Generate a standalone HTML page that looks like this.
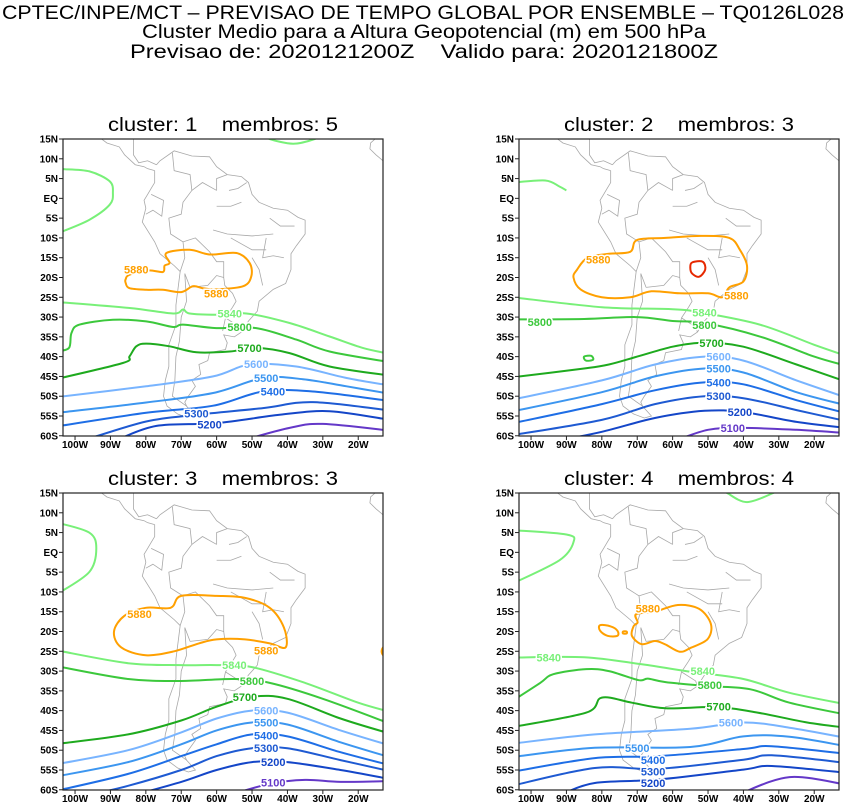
<!DOCTYPE html>
<html><head><meta charset="utf-8"><style>
html,body{margin:0;padding:0;background:#fff}
svg{display:block}
text{font-family:"Liberation Sans",sans-serif;white-space:pre}
</style></head><body>
<svg id="chart" width="847" height="803" viewBox="0 0 847 803">
<g>
<text x="2" y="19" font-size="19" textLength="842" lengthAdjust="spacingAndGlyphs">CPTEC/INPE/MCT – PREVISAO DE TEMPO GLOBAL POR ENSEMBLE – TQ0126L028</text>
<text x="142" y="38" font-size="19" textLength="564" lengthAdjust="spacingAndGlyphs">Cluster Medio para a Altura Geopotencial (m) em 500 hPa</text>
<text x="130" y="58" font-size="19" textLength="588" lengthAdjust="spacingAndGlyphs">Previsao de: 2020121200Z    Valido para: 2020121800Z</text>
</g>
</svg>
<script>
// ---- data ----
const lonTicks=[-100,-90,-80,-70,-60,-50,-40,-30,-20];
const lonTickLabels=['100W','90W','80W','70W','60W','50W','40W','30W','20W'];
const latTicks=[15,10,5,0,-5,-10,-15,-20,-25,-30,-35,-40,-45,-50,-55,-60];
const latTickLabels=['15N','10N','5N','EQ','5S','10S','15S','20S','25S','30S','35S','40S','45S','50S','55S','60S'];
const panelTitles=['cluster: 1    membros: 5','cluster: 2    membros: 3','cluster: 3    membros: 3','cluster: 4    membros: 4'];
const levels=[5880,5840,5800,5700,5600,5500,5400,5300,5200,5100];
const levelColors={5880:'#ffa000',5840:'#78f078',5800:'#3cc83c',5700:'#1eaa1e',5600:'#78b4ff',5500:'#3c96f0',5400:'#1e6ee6',5300:'#1e5ad2',5200:'#1446c8',5100:'#6438c8',5890:'#e62800'};

// panel 1
const p1_5840a=[[-103.4,7.4],[-95.9,6.8],[-90.2,4.3],[-89.3,1.4],[-90.2,-1.6],[-95.9,-5.4],[-103.4,-8.3]];
const p1_5840b=[[-46,16],[-45,15],[-38.4,13.8],[-32.3,15],[-31,16]];
const p1_5840=[[-105,-26.2],[-84.6,-27.7],[-72.3,-29.1],[-69.5,-28.1],[-67.6,-29.1],[-60.1,-29.4],[-51.6,-29.1],[-39.4,-31.5],[-28.1,-34.9],[-18.7,-37.8],[-11,-39.3]];
const p1_5800=[[-105,-38.6],[-101.7,-37.8],[-101,-34],[-98.7,-31.9],[-89.3,-30.7],[-79.9,-31.1],[-72.3,-32.5],[-69.5,-31.9],[-60.1,-32.8],[-48.8,-32.8],[-37.5,-35.7],[-28.1,-38.7],[-11,-41.4]];
const p1_5700=[[-105,-45.6],[-86.5,-41.6],[-84.6,-39.9],[-82.7,-37.4],[-79.9,-36.7],[-73.3,-37.4],[-65.7,-38.9],[-56.3,-38.7],[-48.8,-37.8],[-39.4,-39.1],[-28.1,-42.5],[-11,-44.8]];
const p1_5600=[[-105,-50.2],[-79.9,-47.5],[-61,-45],[-50.7,-42],[-37.5,-42.5],[-23.3,-45.4],[-11,-47.3]];
const p1_5500=[[-105,-54.2],[-79.9,-51.6],[-61,-49.2],[-46.9,-45.4],[-35.6,-45.7],[-23.3,-47.5],[-11,-49.4]];
const p1_5400=[[-105,-57.6],[-79.9,-54.2],[-61,-52.4],[-46.9,-48.8],[-32.8,-48.8],[-11,-51.2]];
const p1_5300=[[-97,-61],[-79.9,-56.4],[-65.7,-54.7],[-46.9,-53],[-32.8,-51.5],[-11,-53.6]];
const p1_5200=[[-88,-61],[-77,-57.5],[-60.1,-56.8],[-42.2,-54.7],[-28.1,-53.8],[-11,-56]];
const p1_5100=[[-52,-61],[-39.4,-58],[-30,-57],[-11,-58.7]];
const p1_5880=[[-85.7,-20.4],[-84.6,-19.3],[-79.4,-18.2],[-75.2,-18.6],[-74.7,-17],[-73.3,-16.3],[-74.2,-13.8],[-67.6,-13],[-61.9,-14.2],[-54.4,-13.8],[-50.7,-16.3],[-50.2,-19.7],[-52.5,-22.2],[-60.1,-23],[-63.9,-22.7],[-66.7,-22.2],[-70,-23.7],[-75.2,-23.1],[-79.9,-23.1],[-84.6,-22.7],[-85.7,-21.4]];
const p1_labels=[[5880,-82.7,-18],[5880,-60.1,-24.1],[5840,-56.3,-29.1],[5800,-53.5,-32.5],[5700,-50.7,-37.8],[5600,-48.8,-41.8],[5500,-46,-45.4],[5400,-44.1,-48.8],[5300,-65.7,-54.4],[5200,-62,-57.2]];

// panel 2
const p2_5840a=[[-105,4],[-96,4.5],[-92,3],[-90,2]];
const p2_5840=[[-105,-25],[-80,-27.5],[-60,-28],[-51,-29],[-35,-32],[-20,-37],[-11,-39.8]];
const p2_5800=[[-105,-30.6],[-85,-30.5],[-70,-30],[-60,-31],[-51,-31.5],[-35,-35],[-20,-40],[-11,-42.3]];
const p2_5700=[[-105,-45.2],[-85,-43],[-78,-42],[-70,-40],[-60,-37.5],[-51,-36.5],[-40,-37.5],[-25,-42],[-11,-46.3]];
const p2_5600=[[-105,-50.8],[-80,-46],[-65,-42],[-51,-40],[-40,-41],[-25,-46],[-11,-50.3]];
const p2_5500=[[-105,-53.8],[-80,-49],[-65,-45],[-51,-43],[-40,-44],[-25,-49],[-11,-52.3]];
const p2_5400=[[-105,-56.8],[-80,-52],[-65,-48.5],[-51,-46.5],[-40,-47],[-25,-51],[-11,-54.3]];
const p2_5300=[[-105,-59.8],[-80,-56],[-65,-52],[-51,-50],[-40,-50.5],[-25,-53.5],[-11,-56.3]];
const p2_5200=[[-94,-61.5],[-80,-59],[-65,-55.5],[-51,-53.7],[-40,-54],[-25,-56.5],[-11,-58]];
const p2_5100=[[-60,-61.5],[-50,-58.5],[-40,-58],[-25,-58.5],[-11,-59.3]];
const p2_5880=[[-87,-18],[-84,-15],[-78,-14],[-72,-13.5],[-70,-10.5],[-62,-10],[-52,-9.5],[-44,-10],[-41,-13],[-39,-17],[-40,-21],[-44,-22.5],[-46,-25],[-50,-24],[-58,-24],[-66,-23.5],[-72,-25],[-80,-25],[-86,-23],[-88,-20]];
const p2_5890=[[-54.5,-16.2],[-51.5,-16],[-50.8,-18],[-52.5,-19.8],[-54.5,-19],[-55,-17.5]];
const p2_5800b=[[-85,-40],[-83,-39.8],[-82.5,-40.8],[-84.5,-41]];
const p2_labels=[[5880,-81,-15.5],[5880,-42,-24.5],[5840,-51,-28.8],[5800,-97.5,-31.2],[5800,-51,-32],[5700,-49,-36.5],[5600,-47,-40],[5500,-47,-43],[5400,-47,-46.5],[5300,-47,-50],[5200,-41,-54],[5100,-43,-58]];

// panel 3
const p3_5840a=[[-105,7.5],[-96,5],[-94,1],[-96,-5],[-105,-10.5]];
const p3_5840=[[-105,-24.8],[-85,-28],[-70,-28.5],[-60,-28.5],[-50,-29],[-35,-33],[-20,-38],[-11,-40.3]];
const p3_5800=[[-105,-28.8],[-85,-32],[-70,-32.5],[-55,-32],[-45,-33],[-30,-37],[-11,-43.3]];
const p3_5700=[[-105,-48.4],[-85,-46],[-70,-42.5],[-60,-39],[-50,-36.5],[-40,-37],[-25,-42],[-11,-45.8]];
const p3_5600=[[-105,-53.5],[-85,-50],[-70,-45.5],[-60,-42],[-50,-40],[-40,-40.5],[-25,-45],[-11,-48.8]];
const p3_5500=[[-105,-56.6],[-85,-53],[-70,-48.5],[-60,-45],[-50,-43],[-40,-43.5],[-25,-48],[-11,-51.8]];
const p3_5400=[[-105,-60.2],[-85,-56],[-70,-51.5],[-60,-48.5],[-50,-46],[-40,-46.5],[-25,-50.5],[-11,-53.8]];
const p3_5300=[[-97,-61.5],[-85,-59],[-70,-55],[-60,-51.5],[-50,-49.5],[-40,-49.5],[-25,-52.5],[-11,-55.3]];
const p3_5200=[[-84,-61.5],[-70,-58],[-60,-55],[-50,-53],[-40,-53],[-25,-55],[-11,-57.3]];
const p3_5100=[[-57,-61.5],[-45,-58.5],[-35,-57.5],[-25,-58],[-11,-57.8]];
const p3_5880=[[-89,-20],[-86,-16],[-80,-14],[-73,-14],[-70,-11],[-60,-11],[-52,-11.5],[-45,-14],[-41,-19],[-40.5,-24],[-45,-23],[-52,-22],[-60,-22],[-65,-23],[-72,-25],[-80,-26],[-87,-24]];
const p3_5880b=[[-12.5,-23.5],[-13.3,-24.5],[-13.3,-25.5],[-12.5,-26.5]];
const p3_labels=[[5880,-81.8,-15.6],[5880,-46,-24.8],[5840,-55,-28.5],[5800,-50,-32.5],[5700,-52,-36.5],[5600,-46,-40],[5500,-46,-43],[5400,-46,-46.3],[5300,-46,-49.5],[5200,-44,-53],[5100,-44,-58.2]];

// panel 4
const p4_5840a=[[-105,5.6],[-90,4.5],[-88,2.6],[-92,-2],[-105,-7.8]];
const p4_5840b=[[-46,16],[-44.6,15],[-39,12.7],[-31.6,15],[-30,16]];
const p4_5840=[[-105,-26.6],[-85,-26.5],[-68.7,-28.3],[-54.8,-30.2],[-40,-32],[-27,-35.5],[-11,-38.4]];
const p4_5800=[[-105,-37.4],[-97.4,-33],[-93.7,-30.8],[-84.4,-29.5],[-78,-30],[-69.6,-32.3],[-67,-31.9],[-62,-32.8],[-50,-33.8],[-38,-34.6],[-27,-38],[-11,-41]];
const p4_5700=[[-105,-44.1],[-84.4,-40.5],[-80,-36.7],[-71.5,-38],[-62,-39.4],[-47.4,-39.1],[-36,-40.5],[-22,-43],[-11,-44.3]];
const p4_5600=[[-105,-48.3],[-82,-46],[-55,-44.6],[-40,-43],[-27,-44.3],[-11,-46.9]];
const p4_5500=[[-105,-51.7],[-82,-49.4],[-55,-49.2],[-40,-46.5],[-27,-46.6],[-11,-49]];
const p4_5400=[[-105,-55.4],[-82,-52],[-64,-51.5],[-40,-49.7],[-32,-49],[-11,-50.9]];
const p4_5300=[[-105,-58.9],[-82,-54.5],[-64,-54.7],[-40,-52.4],[-32,-51.3],[-11,-53.2]];
const p4_5200=[[-91,-61],[-82,-58.3],[-64,-57.4],[-40,-54.9],[-32,-54],[-11,-55.7]];
const p4_5100=[[-41,-61],[-27,-56.8],[-11,-58.7]];
const p4_5880=[[-65,-15],[-58.5,-13.3],[-52.5,-14.3],[-49.2,-18.1],[-50.1,-21.9],[-54.8,-24.1],[-58,-25.1],[-62.2,-23.2],[-65,-22.4],[-68.7,-23.2],[-71.5,-21.1],[-71,-18.6],[-69.9,-17.7],[-70.3,-15.6]];
const p4_5880b=[[-80.5,-18.4],[-77.5,-18.7],[-75.6,-19.8],[-75.6,-21.1],[-78.4,-21.1],[-80.5,-19.8]];
const p4_5880c=[[-74,-20],[-73,-20],[-73,-20.5],[-74,-20.5]];
const p4_labels=[[5880,-67,-14.2],[5840,-95,-26.6],[5840,-51.5,-30],[5800,-49.5,-33.5],[5700,-47,-39],[5600,-43.5,-43],[5500,-70,-49.5],[5400,-65.5,-52.5],[5300,-65.5,-55.4],[5200,-65.5,-58.3]];

// coastline (coarse)
const coastSA=[[-77,8.5],[-76,9.5],[-72,12],[-70,11.5],[-67,10.7],[-62,10.5],[-60,8],[-57,6],[-53,5.5],[-51,4],[-50,1],[-48,-1],[-44,-2.5],[-40,-3],[-37,-4.8],[-35,-5.5],[-35,-9],[-37.5,-12],[-39,-14],[-39,-18],[-40.5,-21.5],[-44,-23],[-48,-26],[-48.5,-28.5],[-51,-31],[-53,-33.8],[-55,-35],[-58,-34.5],[-57,-36.5],[-57.5,-38.2],[-62,-39],[-62.5,-41],[-65,-42],[-64.5,-44.5],[-67,-46],[-66,-47.5],[-68,-50],[-69,-51.5],[-68.5,-52.5],[-66,-55],[-68,-55.5],[-71,-54.5],[-74,-52.5],[-75,-50],[-74.5,-46],[-73.5,-42.5],[-73.5,-37],[-71.5,-32],[-71.5,-27],[-70.3,-18.5],[-72,-17],[-76,-14],[-77.5,-11],[-81,-6],[-80,-2.5],[-80.5,-0.5],[-79.5,1],[-78.5,2.5],[-77.5,4],[-77.5,7]];
const coastCA=[[-77.5,7],[-79.5,7.5],[-80.5,8],[-83,8.5],[-86,11],[-87.5,13],[-91,14],[-94,16],[-97,16],[-99,17],[-104,19]];
const coastCA2=[[-77,8.5],[-79.5,9.5],[-82,9],[-83.5,11],[-83.5,15],[-86,16],[-88.5,16],[-88,18],[-87,21]];
const coastAF=[[-10,16],[-14,16],[-16.5,14],[-16.7,12.5],[-15,11],[-13,9.5],[-12.5,7.5],[-10,6]];
const borders=[
 [[-70.3,-18.5],[-69,-15],[-69.5,-11],[-73,-9],[-73.5,-5],[-70,-4],[-69.5,-1],[-67,2],[-67.5,6],[-72,7],[-72.5,11.5]],
 [[-69.5,-11],[-66,-10],[-62,-13.5],[-60,-16],[-58,-16],[-58,-20],[-57.7,-22],[-55.5,-24],[-54.5,-26],[-55.5,-27.5],[-57.5,-30.2],[-58.3,-33.5]],
 [[-67.5,-22.5],[-62.5,-22],[-60,-19.5],[-58,-20]],
 [[-67.5,-22.5],[-69,-19],[-68.5,-26],[-70,-30],[-70.5,-36],[-71.5,-40],[-71.8,-46],[-72.5,-50],[-68.5,-52.5]],
 [[-57.5,-30.2],[-53.5,-32.5],[-53,-33.8]],
 [[-60,2],[-60,5],[-57,6]],[[-56.5,2],[-54,2.5],[-51.5,4]],[[-60,2],[-64,4],[-67,2]],
 [[-78.5,1],[-75,-0.5],[-75.5,-4.5],[-78,-3],[-80,-4]],
 [[-50,-15],[-48,-18],[-47,-22]],[[-46,-10],[-47,-15],[-44,-14.5],[-41,-15]],[[-56,-10],[-50,-13],[-46,-13]],[[-61,-8],[-57,-9],[-50,-9.5],[-44,-9]],[[-60,-2],[-56,-2],[-53,-1]],[[-45,-5],[-42,-7],[-38,-7]]
];

// ---- drawing ----
const NS='http://www.w3.org/2000/svg';
const svg=document.getElementById('chart');
const panels=[{ox:63,oy:139},{ox:519,oy:139},{ox:63,oy:493},{ox:519,oy:493}];
const PW=320, PH=297, LON0=-103.4, PXDEG=3.54, LAT0=15, PYDEG=3.957;
function xs(p,lon){return p.ox+(lon-LON0)*PXDEG;}
function ys(p,lat){return p.oy+(LAT0-lat)*PYDEG;}
function pathFrom(pts,closed){
  const n=pts.length; if(n<2)return '';
  const get=i=>closed?pts[(i+n)%n]:pts[Math.max(0,Math.min(n-1,i))];
  let d='M'+pts[0][0].toFixed(1)+','+pts[0][1].toFixed(1);
  const segs=closed?n:n-1;
  for(let i=0;i<segs;i++){
    const p0=get(i-1),p1=get(i),p2=get(i+1),p3=get(i+2);
    const c1=[p1[0]+(p2[0]-p0[0])/6,p1[1]+(p2[1]-p0[1])/6];
    const c2=[p2[0]-(p3[0]-p1[0])/6,p2[1]-(p3[1]-p1[1])/6];
    d+='C'+c1[0].toFixed(1)+','+c1[1].toFixed(1)+' '+c2[0].toFixed(1)+','+c2[1].toFixed(1)+' '+p2[0].toFixed(1)+','+p2[1].toFixed(1);
  }
  return closed?d+'Z':d;
}
function mk(tag,attrs,parent){const e=document.createElementNS(NS,tag);for(const k in attrs)e.setAttribute(k,attrs[k]);parent.appendChild(e);return e;}

const contourSets=[
 [[5840,p1_5840a,0],[5840,p1_5840b,0],[5840,p1_5840,0],[5800,p1_5800,0],[5700,p1_5700,0],[5600,p1_5600,0],[5500,p1_5500,0],[5400,p1_5400,0],[5300,p1_5300,0],[5200,p1_5200,0],[5100,p1_5100,0],[5880,p1_5880,1]],
 [[5840,p2_5840a,0],[5840,p2_5840,0],[5800,p2_5800,0],[5800,p2_5800b,1],[5700,p2_5700,0],[5600,p2_5600,0],[5500,p2_5500,0],[5400,p2_5400,0],[5300,p2_5300,0],[5200,p2_5200,0],[5100,p2_5100,0],[5880,p2_5880,1],[5890,p2_5890,1]],
 [[5840,p3_5840a,0],[5840,p3_5840,0],[5800,p3_5800,0],[5700,p3_5700,0],[5600,p3_5600,0],[5500,p3_5500,0],[5400,p3_5400,0],[5300,p3_5300,0],[5200,p3_5200,0],[5100,p3_5100,0],[5880,p3_5880,1],[5880,p3_5880b,0]],
 [[5840,p4_5840a,0],[5840,p4_5840b,0],[5840,p4_5840,0],[5800,p4_5800,0],[5700,p4_5700,0],[5600,p4_5600,0],[5500,p4_5500,0],[5400,p4_5400,0],[5300,p4_5300,0],[5200,p4_5200,0],[5100,p4_5100,0],[5880,p4_5880,1],[5880,p4_5880b,1],[5880,p4_5880c,1]]
];
const labelSets=[p1_labels,p2_labels,p3_labels,p4_labels];
const defs=mk('defs',{},svg);
panels.forEach((p,pi)=>{
  const cp=mk('clipPath',{id:'clip'+pi},defs);
  mk('rect',{x:p.ox,y:p.oy,width:PW,height:PH},cp);
  const g=mk('g',{},svg);
  
  
  const t=mk('text',{x:p.ox+45,y:p.oy-8,'font-size':19,textLength:230,lengthAdjust:'spacingAndGlyphs'},g);
  
  
  t.textContent=panelTitles[pi];
  const inner=mk('g',{'clip-path':'url(#clip'+pi+')'},g);
  const geo=mk('g',{fill:'none',stroke:'#a8a8a8','stroke-width':0.8},inner);
  
  
  [coastSA,coastCA,coastCA2,coastAF].concat(borders).forEach((ln,li)=>{
    const pts=ln.map(q=>[xs(p,q[0]),ys(p,q[1])]);
    const e=mk('polyline',{points:pts.map(a=>a.join(',')).join(' ')},geo);
    
    
  });
  contourSets[pi].forEach(c=>{
    const pts=c[1].map(q=>[xs(p,q[0]),ys(p,q[1])]);
    const e=mk('path',{d:pathFrom(pts,!!c[2]),fill:'none',stroke:levelColors[c[0]],'stroke-width':2,'stroke-linejoin':'round'},inner);
    
    
  });
  labelSets[pi].forEach(l=>{
    const tx=mk('text',{x:xs(p,l[1]),y:ys(p,l[2])+4,'font-size':11,'font-weight':'bold','text-anchor':'middle',fill:levelColors[l[0]],stroke:'#fff','stroke-width':3,'paint-order':'stroke'},inner);
    
    
    tx.textContent=l[0];
  });
  const fr=mk('rect',{x:p.ox,y:p.oy,width:PW,height:PH,fill:'none',stroke:'#222','stroke-width':1.2},g);
  
  
  latTicks.forEach((lat,i)=>{
    const y=ys(p,lat);
    const tk=mk('line',{x1:p.ox-4,x2:p.ox,y1:y,y2:y,stroke:'#222','stroke-width':1},g);
    
    
    const tl=mk('text',{x:p.ox-5,y:y+3.5,'font-size':10,'font-weight':'bold','text-anchor':'end'},g);
    
    
    tl.textContent=latTickLabels[i];
  });
  lonTicks.forEach((lon,i)=>{
    const x=xs(p,lon);
    const tk=mk('line',{x1:x,x2:x,y1:p.oy+PH,y2:p.oy+PH+4,stroke:'#222','stroke-width':1},g);
    
    
    const tl=mk('text',{x:x,y:p.oy+PH+12,'font-size':10,'font-weight':'bold','text-anchor':'middle'},g);
    
    
    tl.textContent=lonTickLabels[i];
  });
});
</script>
</body></html>
